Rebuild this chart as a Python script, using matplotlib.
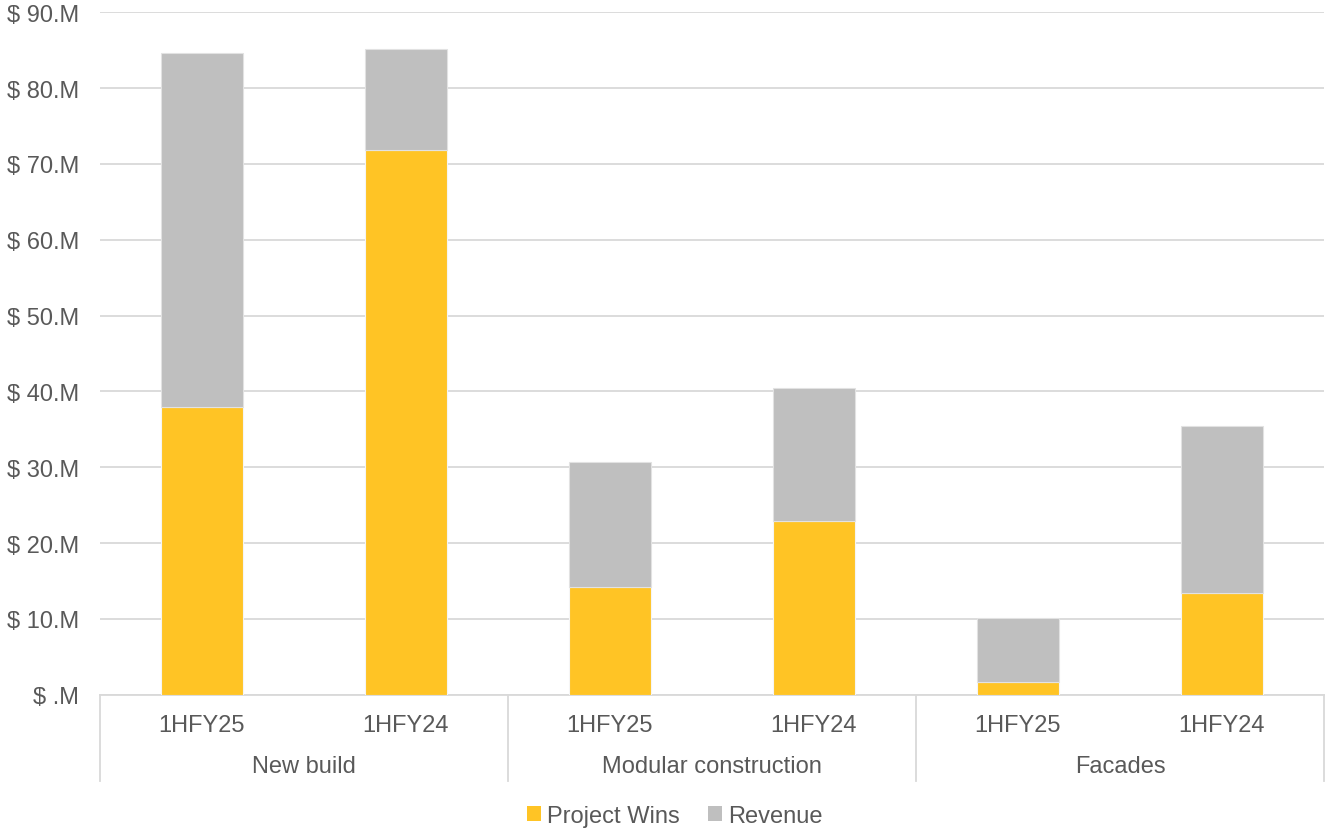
import matplotlib
matplotlib.use("Agg")
import matplotlib.pyplot as plt
from matplotlib.patches import Patch
from matplotlib.transforms import blended_transform_factory

plt.rcParams['font.family'] = ['Liberation Sans', 'DejaVu Sans']

# Data ($M)
groups = ["New build", "Modular construction", "Facades"]
periods = ["1HFY25", "1HFY24"]
project_wins = [37.9, 71.8, 14.2, 22.9, 1.7, 13.4]
revenue = [46.7, 13.3, 16.5, 17.6, 8.4, 22.0]
y_ticks = [0, 10, 20, 30, 40, 50, 60, 70, 80, 90]
y_tick_labels = ["$ .M", "$ 10.M", "$ 20.M", "$ 30.M", "$ 40.M",
                 "$ 50.M", "$ 60.M", "$ 70.M", "$ 80.M", "$ 90.M"]

YELLOW = "#FFC425"
GREY = "#BFBFBF"
TEXT = "#595959"
GRID = "#D9D9D9"
FS = 17

W, H = 1325, 829
fig = plt.figure(figsize=(W / 100, H / 100), dpi=100)
ax = fig.add_axes([100 / W, (H - 695.7) / H, 1224 / W, (695.7 - 13.3) / H])

x = list(range(len(project_wins)))
ax.bar(x, project_wins, width=0.4, color=YELLOW, edgecolor="#F5F5F5",
       linewidth=0.8, zorder=3, label="Project Wins")
ax.bar(x, revenue, width=0.4, bottom=project_wins, color=GREY,
       edgecolor="#E2E2E2", linewidth=0.8, zorder=3, label="Revenue")

ax.set_xlim(-0.5, len(x) - 0.5)
ax.set_ylim(0, 90)
ax.set_yticks(y_ticks)
ax.set_yticklabels(y_tick_labels, fontsize=FS, color=TEXT)
ax.tick_params(axis="y", length=0, pad=15)
ax.set_xticks([])
ax.grid(axis="y", color=GRID, linewidth=1.3, zorder=0)
for s in ["top", "right", "left"]:
    ax.spines[s].set_visible(False)
ax.spines["bottom"].set_color(GRID)
ax.spines["bottom"].set_linewidth(1.3)

# Two-level category axis
trans = blended_transform_factory(ax.transData, fig.transFigure)
for i in x:
    ax.text(i, 1 - 726 / H, periods[i % 2], transform=trans, ha="center",
            va="center", fontsize=FS, color=TEXT)
for g, name in enumerate(groups):
    ax.text(2 * g + 0.5, 1 - 767 / H, name, transform=trans, ha="center",
            va="center", fontsize=FS, color=TEXT)
for b in [-0.5, 1.5, 3.5, 5.5]:
    ax.plot([b, b], [1 - 695.7 / H, 1 - 782 / H], transform=trans,
            color=GRID, linewidth=1.3, clip_on=False)

handles = [Patch(facecolor=YELLOW, label="Project Wins"),
           Patch(facecolor=GREY, label="Revenue")]
fig.legend(handles=handles, loc="center", bbox_to_anchor=(675 / W, 1 - 817 / H),
           ncol=2, frameon=False, fontsize=FS, handlelength=0.6,
           handleheight=0.6, handletextpad=0.25, columnspacing=1.2,
           labelcolor=TEXT, borderpad=0.2)

fig.savefig("out.png", dpi=100, facecolor="white")
